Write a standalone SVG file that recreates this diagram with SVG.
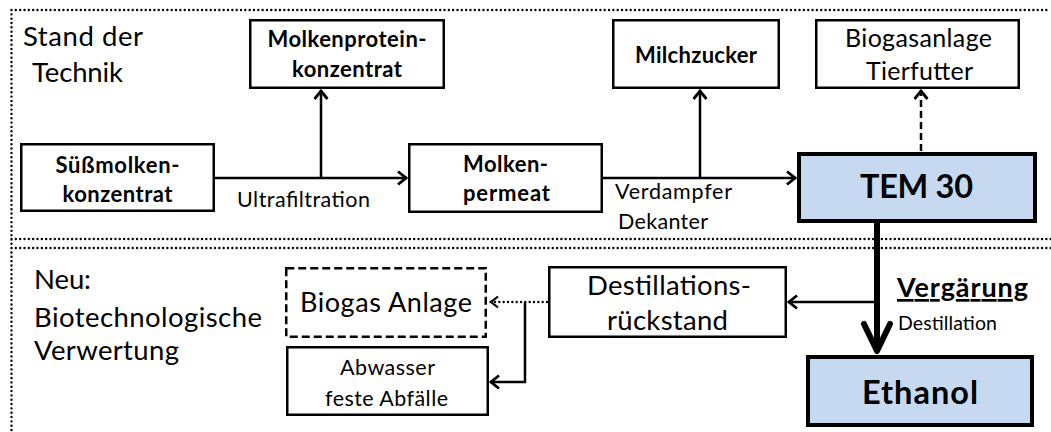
<svg xmlns="http://www.w3.org/2000/svg" width="1051" height="432" viewBox="0 0 1051 432">
  <style>
    text { font-family: Lato, "Liberation Sans", sans-serif; fill: #000; }
    .sec { font-size: 27.5px; }
    .bb { font-size: 22px; font-weight: bold; text-anchor: middle; }
    .rg { font-size: 21.5px; }
    .rgc { font-size: 21.5px; text-anchor: middle; }
    .big { font-size: 27px; text-anchor: middle; }
    .hd { font-size: 32.5px; font-weight: bold; text-anchor: middle; }
    .box { fill: #fff; stroke: #000; stroke-width: 2.5; }
    .dash { fill: #fff; stroke: #000; stroke-width: 2.5; stroke-dasharray: 8 4; }
    .main { fill: #c6d9f1; stroke: #000; stroke-width: 4; }
    .frame { fill: none; stroke: #000; stroke-width: 2.4; stroke-dasharray: 0 4.33; stroke-linecap: round; }
    .ln { fill: none; stroke: #000; stroke-width: 2.5; }
  </style>
  <defs>
    <marker id="arr" markerUnits="userSpaceOnUse" viewBox="-12 -10 14 20" markerWidth="14" markerHeight="20" refX="1" refY="0" orient="auto">
      <path d="M-8,-6.5 L0,0 L-8,6.5" fill="none" stroke="#000" stroke-width="2.8"/>
    </marker>
    <marker id="arrThin" markerUnits="userSpaceOnUse" viewBox="-12 -10 14 20" markerWidth="14" markerHeight="20" refX="1" refY="0" orient="auto">
      <path d="M-7,-5.5 L0,0 L-7,5.5" fill="none" stroke="#000" stroke-width="2.2"/>
    </marker>
    <marker id="arrBig" markerUnits="userSpaceOnUse" viewBox="-34 -18 40 36" markerWidth="40" markerHeight="36" refX="0" refY="0" orient="auto">
      <path d="M-27,-13 L0,0 L-27,13" fill="none" stroke="#000" stroke-width="6" stroke-linejoin="round" stroke-linecap="round"/>
    </marker>
  </defs>

  <!-- section frames -->
  <g id="frames">
    <path class="frame" d="M11.5,10 H1048 M11.5,10 V432 M11.5,239 H1051 M11.5,248 H1051"/>
  </g>

  <!-- section captions -->
  <g id="captions">
    <text class="sec" x="23" y="46" textLength="120">Stand der</text>
    <text class="sec" x="32" y="82" textLength="91">Technik</text>
    <text class="sec" x="34" y="289" textLength="57">Neu:</text>
    <text class="sec" x="34" y="327" textLength="228">Biotechnologische</text>
    <text class="sec" x="34" y="360" textLength="145">Verwertung</text>
  </g>

  <!-- connectors -->
  <g id="connectors">
    <line class="ln" x1="215" y1="178" x2="407" y2="178" marker-end="url(#arr)"/>
    <line class="ln" x1="321" y1="178" x2="321" y2="90" marker-end="url(#arr)"/>
    <line class="ln" x1="603" y1="178" x2="796" y2="178" marker-end="url(#arr)"/>
    <line class="ln" x1="700" y1="178" x2="700" y2="90" marker-end="url(#arr)"/>
    <line class="ln" x1="921" y1="151" x2="921" y2="90" stroke-dasharray="7 4" marker-end="url(#arr)"/>
    <line x1="877" y1="222" x2="877" y2="351" stroke="#000" stroke-width="6" marker-end="url(#arrBig)"/>
    <line class="ln" x1="877" y1="302" x2="788" y2="302" marker-end="url(#arr)"/>
    <line x1="547" y1="302" x2="490" y2="302" stroke="#000" stroke-width="2.4" stroke-dasharray="0 4.33" stroke-linecap="round" marker-end="url(#arrThin)"/>
    <polyline class="ln" points="525,302 525,382 490,382" marker-end="url(#arr)"/>
  </g>

  <g id="suessmolken">
    <rect class="box" x="21.25" y="144.25" width="192.5" height="66.5"/>
    <text class="bb" x="117.5" y="173" textLength="124">Süßmolken-</text>
    <text class="bb" x="117.5" y="202" textLength="110">konzentrat</text>
  </g>
  <g id="molkenprotein">
    <rect class="box" x="250.25" y="20.25" width="193.5" height="67.5"/>
    <text class="bb" x="347" y="47" textLength="159">Molkenprotein-</text>
    <text class="bb" x="347" y="77" textLength="110">konzentrat</text>
  </g>
  <g id="molkenpermeat">
    <rect class="box" x="409.25" y="144.25" width="192.5" height="67.5"/>
    <text class="bb" x="505.5" y="172" textLength="85">Molken-</text>
    <text class="bb" x="506.5" y="201" textLength="87">permeat</text>
  </g>
  <g id="milchzucker">
    <rect class="box" x="613.25" y="20.25" width="165.5" height="67.5"/>
    <text class="bb" x="696" y="63" textLength="122">Milchzucker</text>
  </g>
  <g id="biogasanlage-tierfutter">
    <rect class="box" x="816.25" y="20.25" width="202.5" height="67.5"/>
    <text class="big" x="918.5" y="47" textLength="147" style="font-size:25px">Biogasanlage</text>
    <text class="big" x="919.5" y="80" textLength="107" style="font-size:25px">Tierfutter</text>
  </g>
  <g id="tem30">
    <rect class="main" x="799" y="154" width="236" height="67"/>
    <text class="hd" x="916.5" y="198" textLength="113">TEM 30</text>
  </g>

  <g id="labels">
    <text class="rg" x="237" y="207" textLength="133">Ultrafiltration</text>
    <text class="rg" x="615" y="199" textLength="117">Verdampfer</text>
    <text class="rg" x="618" y="229" textLength="90">Dekanter</text>
    <text x="897" y="297" textLength="131" style="font-size:27px;font-weight:bold;text-decoration:underline">Vergärung</text>
    <text x="898" y="330" textLength="99" style="font-size:19.5px">Destillation</text>
  </g>

  <g id="biogas-anlage">
    <rect class="dash" x="286.25" y="268.25" width="199.5" height="68.5"/>
    <text class="big" x="386" y="312" textLength="172">Biogas Anlage</text>
  </g>
  <g id="abwasser">
    <rect class="box" x="287.25" y="347.25" width="200.5" height="67.5"/>
    <text class="rgc" x="387.5" y="375" textLength="95">Abwasser</text>
    <text class="rgc" x="386.5" y="406" textLength="123">feste Abfälle</text>
  </g>
  <g id="destillationsrueckstand">
    <rect class="box" x="549.25" y="267.25" width="236.5" height="69.5"/>
    <text class="big" x="669" y="295" textLength="164" style="font-size:27.5px">Destillations-</text>
    <text class="big" x="667.5" y="330" textLength="121" style="font-size:27.5px">rückstand</text>
  </g>
  <g id="ethanol">
    <rect class="main" x="808" y="357" width="224" height="68"/>
    <text class="hd" x="920" y="404" textLength="116">Ethanol</text>
  </g>
</svg>
